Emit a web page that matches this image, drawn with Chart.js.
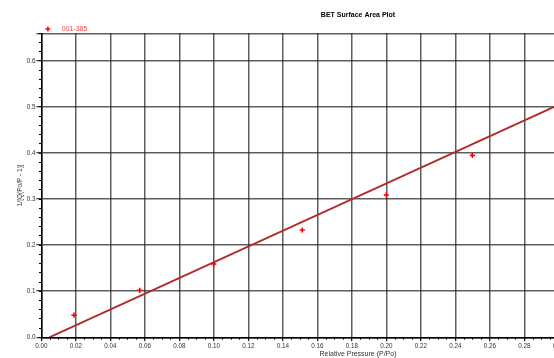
<!DOCTYPE html>
<html>
<head>
<meta charset="utf-8">
<script src="https://cdn.jsdelivr.net/npm/chart.js@4.4.1/dist/chart.umd.min.js"></script>
<style>
  html, body { margin: 0; padding: 0; background: #fff; width: 554px; height: 358px; overflow: hidden; }
  canvas { display: block; }
</style>
</head>
<body>
<canvas id="bet" width="700" height="370"></canvas>
<script>
// Sample and measured BET transform values
const seriesName = '001-385';
const relPressure = [0.0189, 0.0570, 0.0999, 0.1512, 0.1999, 0.2498];
const betValues   = [0.048, 0.102, 0.159, 0.233, 0.309, 0.395];

// Least-squares fit line endpoints
const fitPressure = [0.0046, 0.30];
const fitValues   = [0.0, 0.505];

// Axis ranges and tick spacing
const xRange = [0, 0.367];
const yRange = [0, 0.66];
const xMajorStep = 0.02, xMinorStep = 0.005;
const yMajorStep = 0.1,  yMinorStep = 0.02;

const toPoints = (xs, ys) => xs.map((x, i) => ({ x, y: ys[i] }));
const onStep = (v, step) => Math.abs(v / step - Math.round(v / step)) < 1e-6;

Chart.defaults.font.family = "'Liberation Sans', Arial, sans-serif";
Chart.defaults.color = '#333';

const GRID = 'rgba(30,30,30,0.72)';

// Draws the series key (marker + name) above the plot's top-left corner
const seriesKey = {
  id: 'seriesKey',
  afterDraw(chart) {
    const { ctx, chartArea } = chart;
    const ds = chart.data.datasets[0];
    const cx = chartArea.left + 6.5, cy = 29;
    ctx.save();
    ctx.strokeStyle = ds.borderColor;
    ctx.lineWidth = 1.5;
    ctx.beginPath();
    ctx.moveTo(cx - 2.5, cy); ctx.lineTo(cx + 2.5, cy);
    ctx.moveTo(cx, cy - 2.5); ctx.lineTo(cx, cy + 2.5);
    ctx.stroke();
    ctx.fillStyle = '#f04848';
    ctx.font = "7px 'Liberation Sans', Arial, sans-serif";
    ctx.textBaseline = 'middle';
    ctx.fillText(ds.label, chartArea.left + 20.3, cy);
    ctx.restore();
  }
};

new Chart(document.getElementById('bet'), {
  type: 'scatter',
  data: {
    datasets: [
      {
        label: seriesName,
        data: toPoints(relPressure, betValues),
        pointStyle: 'cross',
        pointRadius: 2.6,
        pointBorderWidth: 1.6,
        borderColor: '#ff0000',
        backgroundColor: '#ff0000'
      },
      {
        label: 'BET fit',
        data: toPoints(fitPressure, fitValues),
        showLine: true,
        pointRadius: 0,
        borderColor: '#b22c2c',
        borderWidth: 2
      }
    ]
  },
  plugins: [seriesKey],
  options: {
    responsive: false,
    animation: false,
    devicePixelRatio: 1,
    layout: { padding: { left: 0, right: 25.4, top: 0, bottom: 0 } },
    plugins: {
      legend: { display: false },
      tooltip: { enabled: false },
      title: {
        display: true,
        text: 'BET Surface Area Plot',
        fullSize: false,
        color: '#000',
        font: { size: 7, weight: 'bold' },
        padding: { top: 11.3, bottom: 13.6 }
      }
    },
    scales: {
      x: {
        type: 'linear',
        position: 'bottom',
        weight: 1,
        min: xRange[0],
        max: xRange[1],
        afterFit: s => { s.height = 32.7; },
        border: { display: true, color: '#000', width: 1.5 },
        grid: {
          color: c => (c.tick && onStep(c.tick.value, xMajorStep) ? GRID : 'rgba(0,0,0,0)'),
          lineWidth: 1.5,
          tickColor: '#000',
          tickLength: 4,
          tickWidth: 1
        },
        ticks: {
          stepSize: xMajorStep,
          autoSkip: false,
          maxRotation: 0,
          padding: 1,
          font: { size: 6.3 },
          color: '#333',
          callback: v => (onStep(v, xMajorStep) ? v.toFixed(2) : '')
        },
        title: {
          display: true,
          text: 'Relative Pressure (P/Po)',
          color: '#333',
          font: { size: 7 },
          padding: { top: 0, bottom: 11.8 }
        }
      },
      xMinor: {
        type: 'linear',
        position: 'bottom',
        weight: 0,
        min: xRange[0],
        max: xRange[1],
        afterFit: s => { s.height = 0; },
        border: { display: false },
        grid: { drawOnChartArea: false, drawTicks: true, tickLength: 2.4, tickColor: '#000', tickWidth: 1 },
        ticks: { display: false, stepSize: xMinorStep, autoSkip: false }
      },
      y: {
        type: 'linear',
        position: 'left',
        weight: 1,
        min: yRange[0],
        max: yRange[1],
        afterFit: s => { s.width = 41.4; },
        border: { display: true, color: '#000', width: 1.5 },
        grid: {
          color: GRID,
          lineWidth: 1.5,
          tickColor: '#000',
          tickLength: 5,
          tickWidth: 1
        },
        ticks: {
          stepSize: yMajorStep,
          padding: 1,
          font: { size: 6.3 },
          color: '#333',
          callback: v => (onStep(v, yMajorStep) ? v.toFixed(1) : '')
        },
        title: {
          display: true,
          text: '1/[Q(Po/P - 1)]',
          color: '#333',
          font: { size: 6.5 },
          padding: { top: 16.8, bottom: 0 }
        }
      },
      yMinor: {
        type: 'linear',
        position: 'left',
        weight: 0,
        min: yRange[0],
        max: yRange[1],
        afterFit: s => { s.width = 0; },
        border: { display: false },
        grid: { drawOnChartArea: false, drawTicks: true, tickLength: 2.4, tickColor: '#000', tickWidth: 1 },
        ticks: { display: false, stepSize: yMinorStep }
      }
    }
  }
});
</script>
</body>
</html>
